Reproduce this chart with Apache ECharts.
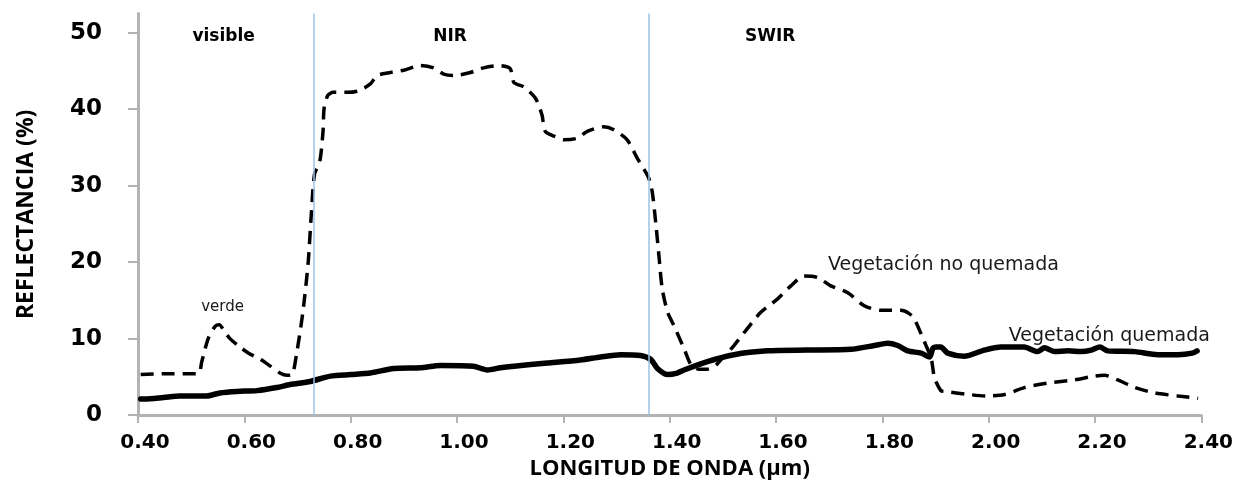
<!DOCTYPE html>
<html>
<head>
<meta charset="utf-8">
<script src="https://cdn.jsdelivr.net/npm/echarts@6/dist/echarts.min.js"></script>
<style>
  html, body { margin: 0; padding: 0; background: #fff; }
  #chart { width: 1236px; height: 485px; }
</style>
</head>
<body>
<div id="chart"></div>
<script>
// Wavelength (µm) and reflectance (%) — unburned vegetation (dashed)
const noQuemadaX = [0.405, 0.450, 0.513, 0.520, 0.532, 0.545, 0.553, 0.562, 0.573, 0.590, 0.608, 0.630, 0.649, 0.667, 0.680, 0.690,
  0.698, 0.710, 0.720, 0.726, 0.732, 0.742, 0.748, 0.750, 0.757, 0.767, 0.793, 0.815, 0.837, 0.850, 0.875, 0.900, 0.931,
  0.956, 0.975, 0.994, 1.025, 1.050, 1.080, 1.100, 1.107, 1.126, 1.148, 1.160, 1.166, 1.185, 1.201, 1.226, 1.245, 1.276,
  1.295, 1.320, 1.339, 1.360, 1.367, 1.374, 1.380, 1.386, 1.396, 1.408, 1.427, 1.440, 1.455, 1.470, 1.485, 1.500, 1.521,
  1.546, 1.571, 1.603, 1.628, 1.653, 1.678, 1.703, 1.735, 1.766, 1.797, 1.835, 1.850, 1.860, 1.879, 1.892, 1.898, 1.910,
  1.917, 1.961, 1.998, 2.030, 2.067, 2.111, 2.161, 2.199, 2.218, 2.243, 2.275, 2.312, 2.356, 2.394];
const noQuemadaY = [5.3, 5.4, 5.4, 7.0, 10.0, 11.6, 11.8, 11.0, 10.0, 9.0, 8.1, 7.3, 6.4, 5.5, 5.2, 5.3,
  7.9, 13.4, 19.9, 26.3, 31.5, 33.2, 37.1, 40.1, 41.8, 42.2, 42.2, 42.4, 43.3, 44.4, 44.8, 45.1, 45.7,
  45.4, 44.6, 44.4, 44.8, 45.4, 45.7, 45.3, 43.5, 42.9, 41.4, 39.2, 37.1, 36.4, 36.0, 36.2, 37.1, 37.7,
  37.3, 36.0, 33.6, 31.1, 29.3, 25.0, 20.7, 16.5, 13.5, 11.7, 8.7, 6.6, 6.0, 6.0, 6.4, 7.5, 9.1,
  11.3, 13.4, 15.2, 16.9, 18.2, 18.0, 16.9, 16.0, 14.3, 13.7, 13.7, 13.3, 12.6, 9.6, 7.4, 4.9, 3.2,
  3.1, 2.7, 2.5, 2.7, 3.6, 4.2, 4.6, 5.1, 5.2, 4.6, 3.6, 2.9, 2.5, 2.2];

// Burned vegetation (solid)
const quemadaX = [0.405, 0.413, 0.448, 0.479, 0.529, 0.554, 0.586, 0.624, 0.661, 0.686, 0.724, 0.762, 0.800, 0.837, 0.881,
  0.931, 0.969, 1.031, 1.057, 1.082, 1.107, 1.170, 1.232, 1.270, 1.308, 1.345, 1.364, 1.377, 1.396, 1.414, 1.427, 1.471,
  1.521, 1.584, 1.659, 1.741, 1.785, 1.810, 1.829, 1.848, 1.873, 1.889, 1.895, 1.901, 1.910, 1.923, 1.954, 1.992, 2.023,
  2.067, 2.092, 2.105, 2.124, 2.149, 2.174, 2.193, 2.209, 2.224, 2.275, 2.318, 2.356, 2.383, 2.392];
const quemadaY = [2.1, 2.1, 2.3, 2.5, 2.5, 2.9, 3.1, 3.2, 3.6, 4.0, 4.4, 5.1, 5.3, 5.5, 6.1,
  6.2, 6.5, 6.4, 5.9, 6.2, 6.4, 6.8, 7.2, 7.6, 7.9, 7.8, 7.3, 6.1, 5.3, 5.5, 5.9, 7.0,
  7.9, 8.4, 8.5, 8.6, 9.1, 9.4, 9.1, 8.4, 8.1, 7.6, 8.7, 8.9, 8.9, 8.1, 7.7, 8.5, 8.9,
  8.9, 8.3, 8.8, 8.3, 8.4, 8.3, 8.5, 8.9, 8.4, 8.3, 7.9, 7.9, 8.1, 8.4];

// Spectral region boundaries (µm)
const bandEdges = [0.726, 1.362];

// Axis ticks
const xTicks = [0.4, 0.6, 0.8, 1.0, 1.2, 1.4, 1.6, 1.8, 2.0, 2.2, 2.4];
const yTicks = [0, 10, 20, 30, 40, 50];

// Annotations: [wavelength, reflectance, text, bold]
const notes = [
  [0.561, 49.5, 'visible', true],
  [0.987, 49.5, 'NIR', true],
  [1.589, 49.5, 'SWIR', true],
  [0.559, 14.1, 'verde', false],
  [1.915, 19.6, 'Vegetación no quemada', false],
  [2.227, 10.4, 'Vegetación quemada', false]
];

const pair = (xs, ys) => xs.map((x, i) => [x, ys[i]]);

const chart = echarts.init(document.getElementById('chart'), null, { renderer: 'canvas' });
chart.setOption({
  animation: false,
  backgroundColor: '#ffffff',
  grid: { left: 138, right: 34, top: 13.6, bottom: 64, containLabel: false },
  xAxis: {
    type: 'value', min: 0.4, max: 2.4, interval: 0.2,
    name: 'LONGITUD DE ONDA (µm)', nameLocation: 'middle', nameGap: 41,
    nameTextStyle: { fontFamily: 'Open Sans', fontWeight: 'bold', fontSize: 22, color: '#000' },
    axisLine: { show: true, lineStyle: { color: '#b3b3b3', width: 3 } },
    axisTick: { show: true, length: 8, lineStyle: { color: '#b3b3b3', width: 2 }, customValues: xTicks },
    axisLabel: { margin: 18, padding: [0, 0, 0, 14], fontFamily: 'DejaVu Sans', fontWeight: 'bold', fontSize: 20, color: '#000',
      customValues: xTicks, formatter: v => v.toFixed(2) },
    splitLine: { show: false }
  },
  yAxis: {
    type: 'value', min: 0, max: 52.5,
    name: 'REFLECTANCIA (%)', nameLocation: 'middle', nameGap: 100, nameRotate: 90,
    nameTextStyle: { fontFamily: 'Open Sans', fontWeight: 'bold', fontSize: 23, color: '#000' },
    axisLine: { show: true, lineStyle: { color: '#b3b3b3', width: 3 } },
    axisTick: { show: true, length: 10, lineStyle: { color: '#b3b3b3', width: 2 }, customValues: yTicks },
    axisLabel: { margin: 36, fontFamily: 'DejaVu Sans', fontWeight: 'bold', fontSize: 23, color: '#000',
      customValues: yTicks },
    splitLine: { show: false }
  },
  series: [
    {
      name: 'Vegetación no quemada', type: 'line', data: pair(noQuemadaX, noQuemadaY),
      showSymbol: false, smooth: 0.25, z: 3,
      lineStyle: { color: '#000', width: 3.5, type: [13, 8] },
      markLine: {
        silent: true, symbol: 'none', label: { show: false },
        lineStyle: { color: '#9dc3e6', width: 1.5, type: 'solid' },
        data: bandEdges.map(v => ({ xAxis: v }))
      }
    },
    {
      name: 'Vegetación quemada', type: 'line', data: pair(quemadaX, quemadaY),
      showSymbol: false, smooth: 0.25, z: 4,
      lineStyle: { color: '#000', width: 5.5, cap: 'round', join: 'round' }
    },
    {
      name: 'notes', type: 'scatter', symbol: 'circle', symbolSize: 0, itemStyle: { color: '#fff' }, z: 5, silent: true,
      data: notes.map(n => ({
        value: [n[0], n[1]],
        label: {
          show: true, position: 'inside', formatter: n[2],
          fontFamily: 'DejaVu Sans', fontWeight: n[3] ? 'bold' : 'normal',
          fontSize: n[3] ? 17 : (n[2] === 'verde' ? 15 : 19),
          color: n[3] ? '#000' : '#1a1a1a',
          textBorderWidth: 0, textBorderColor: 'transparent', opacity: 1
        }
      }))
    }
  ]
});
</script>
</body>
</html>
